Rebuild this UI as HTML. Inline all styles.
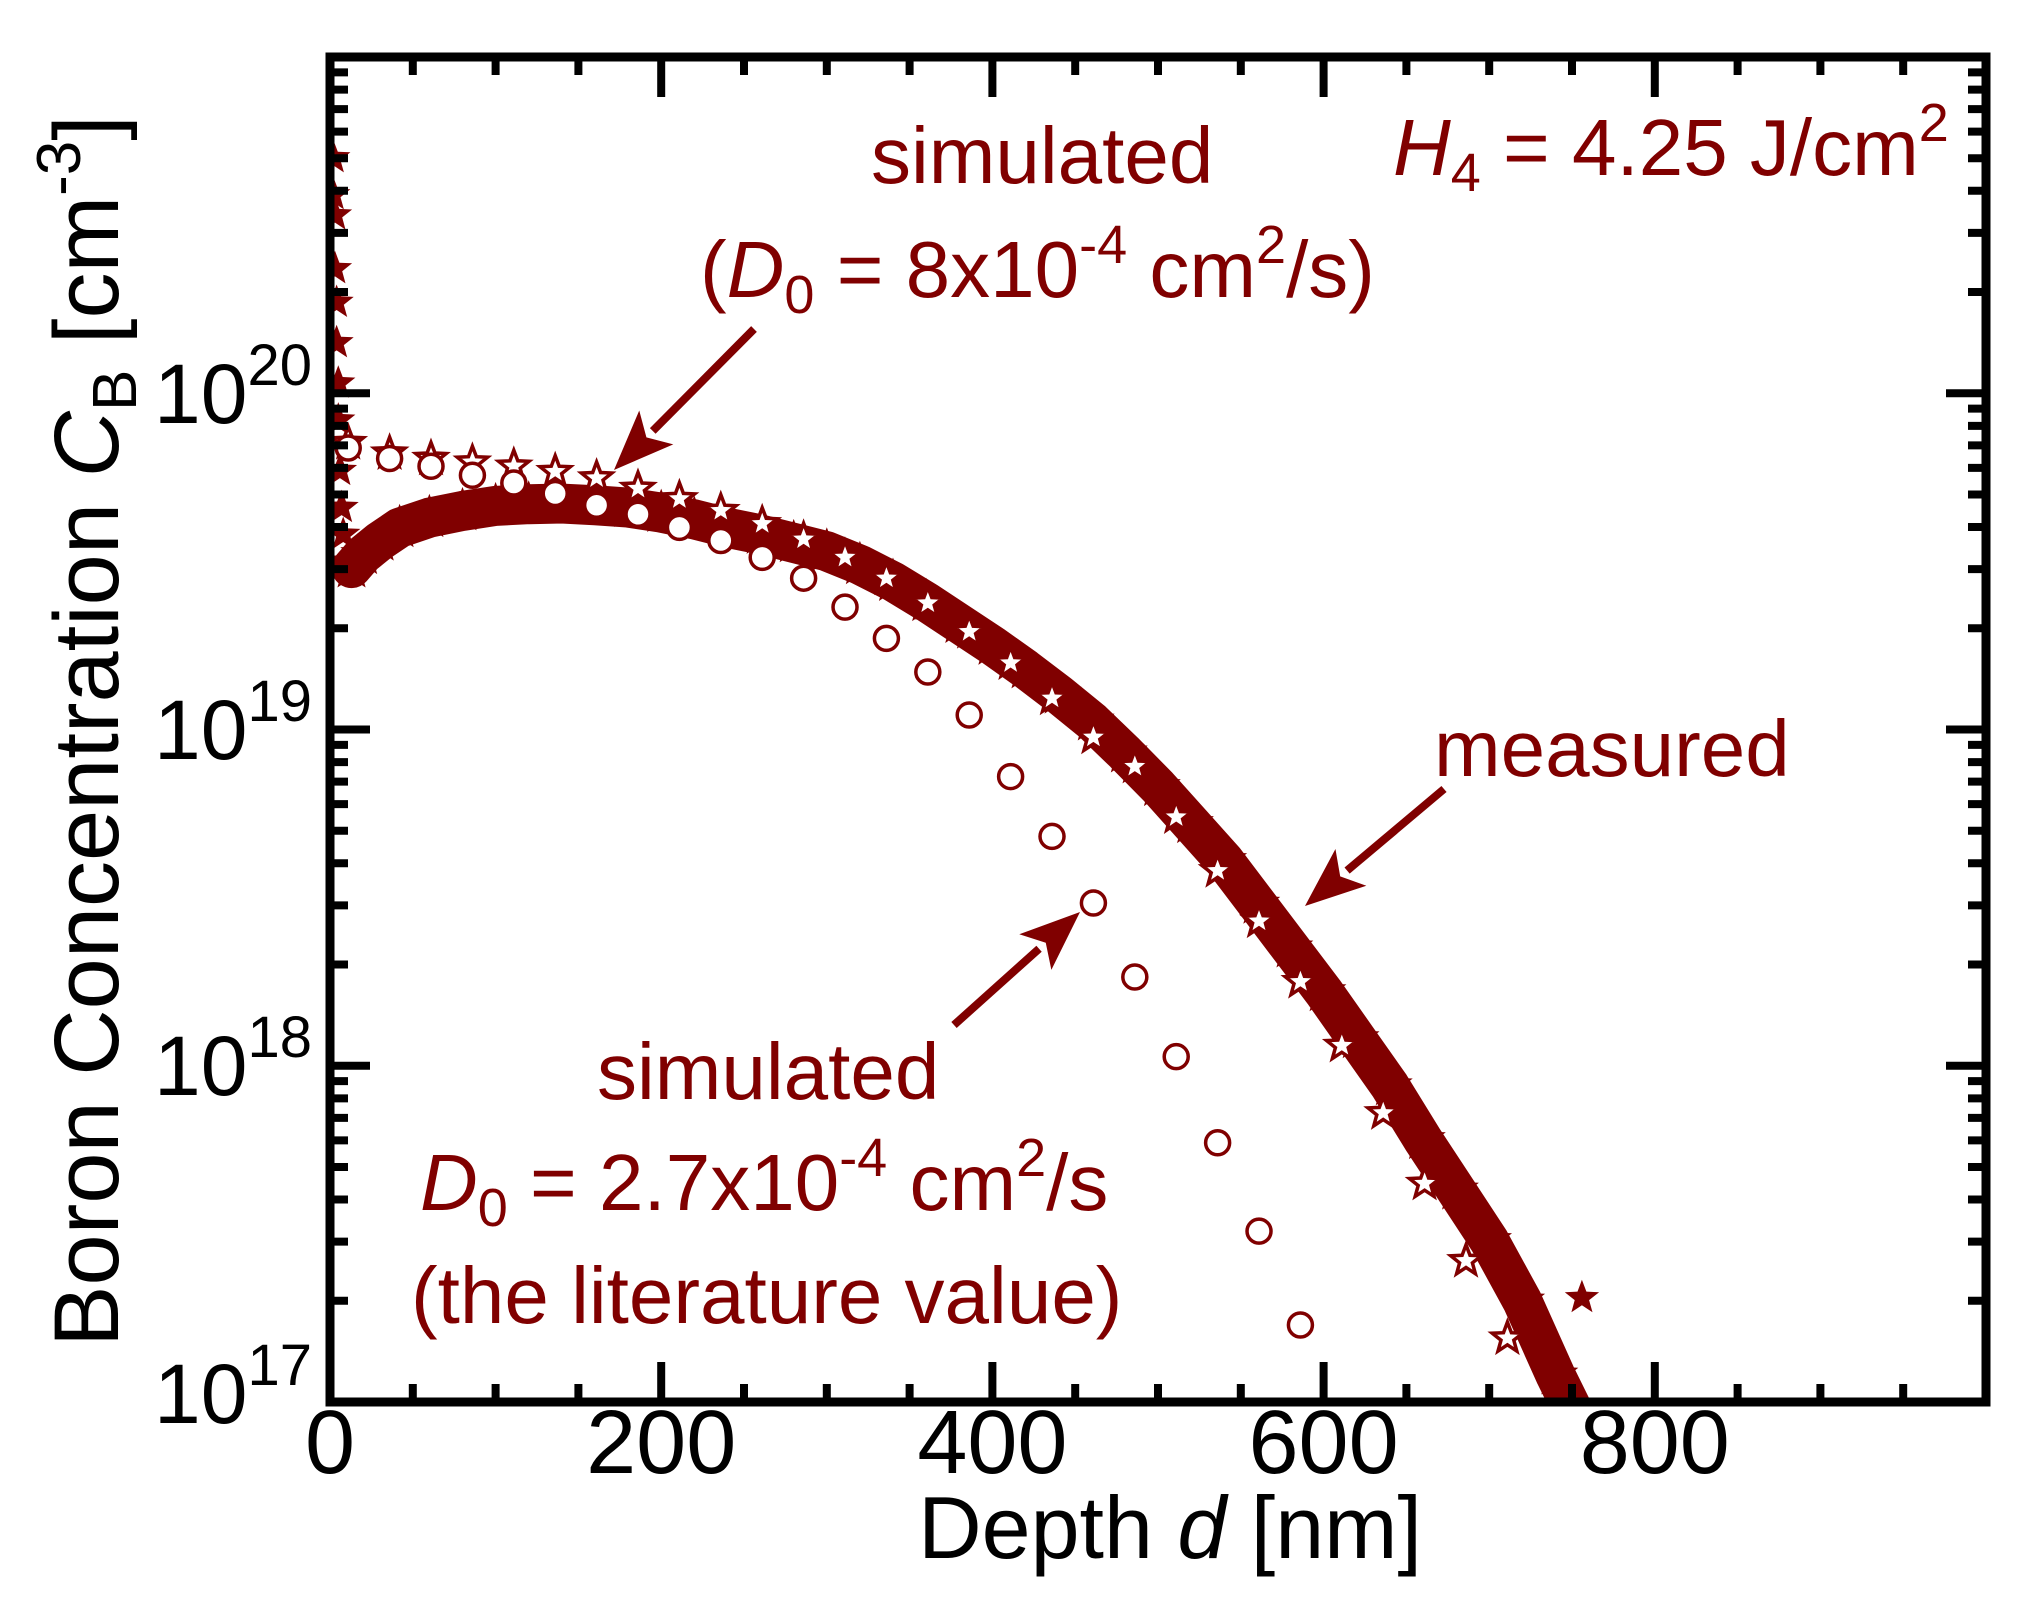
<!DOCTYPE html>
<html>
<head>
<meta charset="utf-8">
<style>
  html, body { margin: 0; padding: 0; background: #fff; }
  svg { display: block; }
  text { font-family: "Liberation Sans", "DejaVu Sans", sans-serif; }
</style>
</head>
<body>
<svg id="chart" width="2024" height="1600" viewBox="0 0 2024 1600" xmlns="http://www.w3.org/2000/svg">
  <rect x="0" y="0" width="2024" height="1600" fill="#fff"/>
  <g id="marks"></g>
  <g id="axes"></g>

  <g font-size="84" fill="#000">
    <text x="154" y="423">10<tspan font-size="58" dy="-38">20</tspan></text>
    <text x="154" y="759">10<tspan font-size="58" dy="-38">19</tspan></text>
    <text x="154" y="1095">10<tspan font-size="58" dy="-38">18</tspan></text>
    <text x="154" y="1423">10<tspan font-size="58" dy="-38">17</tspan></text>
  </g>
  <g id="xlabels" font-size="90" fill="#000" text-anchor="middle"></g>

  <text x="1170" y="1558" font-size="88" text-anchor="middle" fill="#000">Depth <tspan font-style="italic">d</tspan> [nm]</text>
  <text transform="translate(118,731) rotate(-90)" font-size="92" text-anchor="middle" fill="#000">Boron Concentration <tspan font-style="italic">C</tspan><tspan font-size="62" dy="18">B</tspan><tspan dy="-18"> [cm</tspan><tspan font-size="62" dy="-38">-3</tspan><tspan dy="38">]</tspan></text>

  <g fill="#800000" font-size="80">
    <text x="1393" y="175"><tspan font-style="italic">H</tspan><tspan font-size="54" dy="16">4</tspan><tspan dy="-16"> = 4.25 J/cm</tspan><tspan font-size="54" dy="-34">2</tspan></text>
    <text x="871" y="183">simulated</text>
    <text x="700" y="297">(<tspan font-style="italic">D</tspan><tspan font-size="54" dy="16">0</tspan><tspan dy="-16"> = 8x10</tspan><tspan font-size="54" dy="-34">-4</tspan><tspan dy="34"> cm</tspan><tspan font-size="54" dy="-34">2</tspan><tspan dy="34">/s)</tspan></text>
    <text x="1434" y="776">measured</text>
    <text x="597" y="1099">simulated</text>
    <text x="420" y="1210"><tspan font-style="italic">D</tspan><tspan font-size="54" dy="16">0</tspan><tspan dy="-16"> = 2.7x10</tspan><tspan font-size="54" dy="-34">-4</tspan><tspan dy="34"> cm</tspan><tspan font-size="54" dy="-34">2</tspan><tspan dy="34">/s</tspan></text>
    <text x="411" y="1323">(the literature value)</text>
  </g>
  <g id="arrows"></g>
</svg>
<script>
const circleX = [11,36,61,86,111,136,161,186,211,236,261,286,311,336,361,386,411,436,461,486,511,536,561,586];
const circleLog = [19.837,19.806,19.783,19.756,19.733,19.702,19.667,19.640,19.601,19.562,19.512,19.450,19.364,19.271,19.171,19.043,18.860,18.682,18.484,18.264,18.027,17.771,17.508,17.229];

const openStarX = [11,36,61,86,111,136,161,186,211,236,261,286,311,336,361,386,411,436,461,486,511,536,561,586,611,636,661,686,711];
const openStarLog = [19.853,19.822,19.806,19.795,19.783,19.767,19.748,19.717,19.686,19.651,19.612,19.566,19.512,19.450,19.376,19.291,19.198,19.093,18.977,18.890,18.740,18.580,18.430,18.250,18.060,17.860,17.650,17.420,17.190];

const spikeX = [2,2,3,3,4,4,5,5,6,7,8,10];
const spikeLog = [20.70,20.59,20.53,20.37,20.27,20.15,20.03,19.92,19.77,19.66,19.58,19.50];

const measX = [13,20,30,42,60,80,100,120,140,160,180,200,220,240,260,280,300,320,340,360,380,400,420,440,460,480,500,520,540,560,580,600,620,640,660,680,700,720,740,750];
const measLog = [19.48,19.52,19.56,19.60,19.63,19.65,19.665,19.67,19.672,19.667,19.66,19.645,19.625,19.60,19.58,19.555,19.53,19.49,19.44,19.38,19.315,19.25,19.18,19.105,19.025,18.93,18.83,18.72,18.61,18.48,18.35,18.22,18.08,17.94,17.78,17.63,17.48,17.30,17.08,16.98];

const outlierX = [756];
const outlierLog = [17.31];

const xTicks = [0,200,400,600,800,1000];
const xTickLabels = ["0","200","400","600","800",""];

const L = 330, R = 1986, T = 57, B = 1402;
const X = nm => L + nm * (R - L) / 1000;
const Y = lg => B - (lg - 17) * (B - T) / 4;
const NS = "http://www.w3.org/2000/svg";
const RED = "#800000";

function mk(tag, attrs, parent) {
  const e = document.createElementNS(NS, tag);
  for (const k in attrs) e.setAttribute(k, attrs[k]);
  parent.appendChild(e);
  return e;
}
function starPath(cx, cy, Ro) {
  const ri = Ro * 0.42; let d = "";
  for (let i = 0; i < 10; i++) {
    const r = i % 2 ? ri : Ro;
    const a = -Math.PI / 2 + i * Math.PI / 5;
    d += (i ? "L" : "M") + (cx + r * Math.cos(a)).toFixed(1) + "," + (cy + r * Math.sin(a)).toFixed(1);
  }
  return d + "Z";
}

const marks = document.getElementById("marks");
const clip = mk("clipPath", {id: "pc"}, mk("defs", {}, marks));
mk("rect", {x: L, y: T - 30, width: R - L, height: B - T + 30}, clip);
const g = mk("g", {"clip-path": "url(#pc)"}, marks);

let pts = measX.map((x, i) => X(x) + "," + Y(measLog[i])).join(" ");
const band = mk("polyline", {points: pts, fill: "none", stroke: RED, "stroke-width": 40, "stroke-linejoin": "round", "stroke-linecap": "round"}, g);


measX.forEach((x, i) => {
  const p = mk("path", {d: starPath(X(x), Y(measLog[i]), 24), fill: RED}, g);
  
  
});
spikeX.forEach((x, i) => {
  const p = mk("path", {d: starPath(X(x), Y(spikeLog[i]), 18), fill: RED}, g);
  
  
});
outlierX.forEach((x, i) => {
  const p = mk("path", {d: starPath(X(x), Y(outlierLog[i]), 18), fill: RED}, g);
  
  
});
openStarX.forEach((x, i) => {
  const p = mk("path", {d: starPath(X(x), Y(openStarLog[i]), 16), fill: "#fff", stroke: RED, "stroke-width": 3.5, "stroke-linejoin": "miter"}, g);
  
  
});
circleX.forEach((x, i) => {
  const c = mk("circle", {cx: X(x), cy: Y(circleLog[i]), r: 12, fill: "#fff", stroke: RED, "stroke-width": 3.5}, g);
  
  
});

const ax = document.getElementById("axes");
const frame = mk("rect", {x: L, y: T, width: R - L, height: B - T, fill: "none", stroke: "#000", "stroke-width": 9}, ax);


for (let v = 0; v <= 1000; v += 50) {
  const len = v % 200 === 0 ? 40 : 18;
  const x = X(v);
  const t1 = mk("line", {x1: x, x2: x, y1: B, y2: B - len, stroke: "#000", "stroke-width": 8}, ax);
  
  
  const t2 = mk("line", {x1: x, x2: x, y1: T, y2: T + len, stroke: "#000", "stroke-width": 8}, ax);
  
  
}
for (let dcd = 17; dcd < 21; dcd++) {
  for (let m = 1; m <= 9; m++) {
    const y = Y(dcd + Math.log10(m));
    const len = m === 1 ? 40 : 18;
    const t1 = mk("line", {x1: L, x2: L + len, y1: y, y2: y, stroke: "#000", "stroke-width": 8}, ax);
    
    
    const t2 = mk("line", {x1: R, x2: R - len, y1: y, y2: y, stroke: "#000", "stroke-width": 8}, ax);
    
    
  }
}
const xl = document.getElementById("xlabels");
xTicks.forEach((v, i) => {
  if (!xTickLabels[i]) return;
  const t = mk("text", {x: X(v), y: 1473}, xl);
  t.textContent = xTickLabels[i];
  
  
});

const arrows = [[754, 329, 614, 470], [1444, 789, 1305, 906], [954, 1025, 1080, 912]];
const ag = document.getElementById("arrows");
arrows.forEach(a => {
  const [x1, y1, x2, y2] = a;
  const dx = x2 - x1, dy = y2 - y1, len = Math.hypot(dx, dy);
  const ux = dx / len, uy = dy / len, hl = 60, hw = 24;
  const bx = x2 - ux * hl, by = y2 - uy * hl;
  const ln = mk("line", {x1: x1, y1: y1, x2: bx + ux * 5, y2: by + uy * 5, stroke: RED, "stroke-width": 8}, ag);
  
  
  const hd = mk("polygon", {points: `${x2},${y2} ${bx - uy * hw},${by + ux * hw} ${bx + ux * 14},${by + uy * 14} ${bx + uy * hw},${by - ux * hw}`, fill: RED}, ag);
  
  
});
</script>
</body>
</html>
